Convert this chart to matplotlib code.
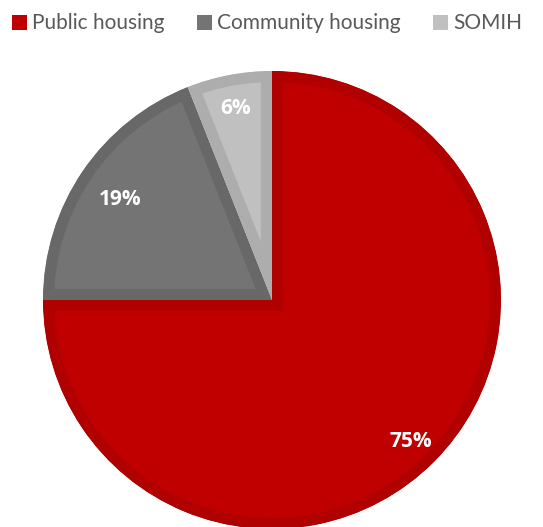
import numpy as np
import matplotlib.pyplot as plt
from matplotlib.patches import Patch

# data
categories = ["Public housing", "Community housing", "SOMIH"]
shares = [75, 19, 6]
fill_colors = ["#C00000", "#747474", "#C0C0C0"]
edge_colors = ["#B00000", "#686868", "#ADADAD"]
label_dist = [0.86, 0.80, 0.86]

fig = plt.figure(figsize=(5.43, 5.27), dpi=100)
ax = fig.add_axes([0, 0, 1, 1])

wedges, texts, autotexts = ax.pie(shares, colors=fill_colors, startangle=90, counterclock=False,
                                  center=(272, 227), radius=229, autopct="%1.0f%%",
                                  wedgeprops=dict(linewidth=16, joinstyle="miter"),
                                  textprops=dict(color="white", fontsize=15, fontweight="bold",
                                                 family="Open Sans"))
# inner border: thick edge clipped to the wedge itself
for w, ec, t, d in zip(wedges, edge_colors, autotexts, label_dist):
    w.set_edgecolor(ec)
    w.set_clip_on(True)
    w.set_clip_path(w)
    mid = np.deg2rad((w.theta1 + w.theta2) / 2)
    t.set_position((w.center[0] + d * w.r * np.cos(mid), w.center[1] + d * w.r * np.sin(mid) - 2))

ax.set_xlim(0, 543)
ax.set_ylim(0, 527)
ax.set_aspect("equal")
ax.axis("off")

handles = [Patch(facecolor=c, edgecolor="none") for c in fill_colors]
fig.legend(handles, categories, loc="upper left", bbox_to_anchor=(-0.013, 1.01), ncol=3, frameon=False,
           handlelength=0.72, handleheight=0.72, handletextpad=0.25, columnspacing=1.55,
           prop=dict(family="Lato", size=15), labelcolor="#595959")

fig.savefig("out.png", dpi=100)
